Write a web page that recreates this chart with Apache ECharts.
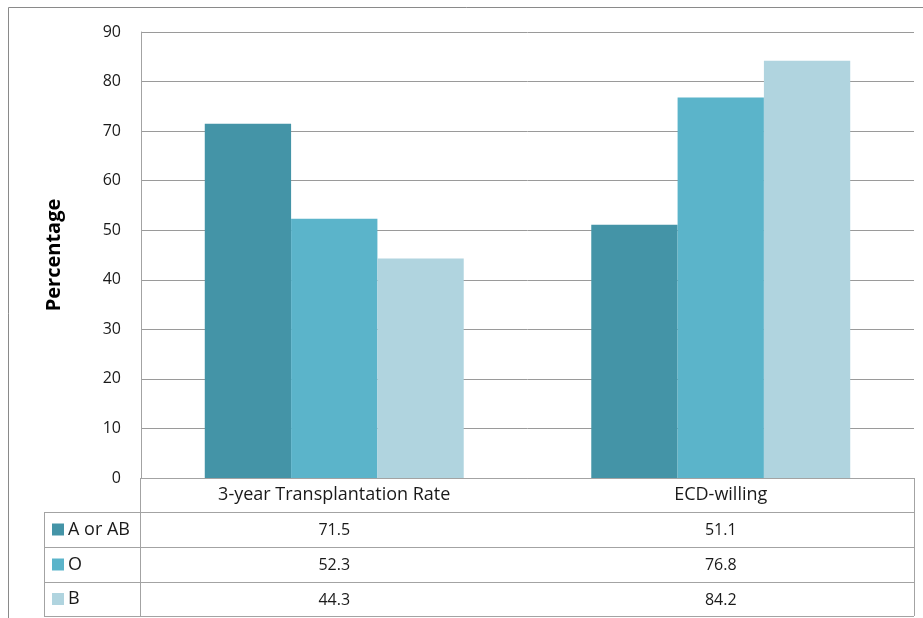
<!DOCTYPE html>
<html>
<head>
<meta charset="utf-8">
<script src="https://cdn.jsdelivr.net/npm/echarts@6/dist/echarts.min.js"></script>
<style>
  html, body { margin: 0; padding: 0; background: #ffffff; }
  #chart { width: 923px; height: 618px; }
</style>
</head>
<body>
<div id="chart"></div>
<script>
// Blood-group comparison: transplantation rate and ECD willingness
const categories = ['3-year Transplantation Rate', 'ECD-willing'];
const seriesNames = ['A or AB', 'O', 'B'];
const valuesAorAB = [71.5, 51.1];
const valuesO = [52.3, 76.8];
const valuesB = [44.3, 84.2];
const yMin = 0, yMax = 90, yStep = 10;

const seriesValues = [valuesAorAB, valuesO, valuesB];
const palette = ['#4494a7', '#5bb4ca', '#b0d4df'];
const FONT = '"Open Sans", Lato, sans-serif';
const TEXT = '#1a1a1a';
const LINE = '#a3a3a3';

// plot / table geometry
const gridLeft = 141, gridRight = 914, gridTop = 32, gridBottom = 478;
const tableLeft = 44, keyColRight = 140;
const rowEdges = [512, 547, 582, 616];

const chart = echarts.init(document.getElementById('chart'), null, { renderer: 'canvas' });

chart.setOption({
  animation: false,
  backgroundColor: '#ffffff',
  grid: {
    left: gridLeft, right: 923 - gridRight, top: gridTop, bottom: 618 - gridBottom,
    containLabel: false
  },
  xAxis: {
    type: 'category',
    data: categories,
    axisLine: { show: true, lineStyle: { color: LINE, width: 1 } },
    axisTick: { show: false },
    axisLabel: { margin: 8, fontFamily: FONT, fontSize: 18, color: TEXT }
  },
  yAxis: {
    type: 'value',
    min: yMin, max: yMax, interval: yStep,
    name: 'Percentage',
    nameLocation: 'middle',
    nameRotate: 90,
    nameGap: 77,
    nameTextStyle: { fontFamily: '"Open Sans", sans-serif', fontWeight: 'bold', fontSize: 20, color: '#000' },
    axisLine: { show: true, lineStyle: { color: LINE, width: 1 } },
    axisTick: { show: false },
    axisLabel: { margin: 20, fontFamily: FONT, fontSize: 16, color: TEXT },
    splitLine: { show: true, lineStyle: { color: '#9a9a9a', width: 1 } }
  },
  series: seriesNames.map((name, i) => ({
    name: name,
    type: 'bar',
    data: seriesValues[i],
    barGap: '0%',
    barCategoryGap: '33%',
    itemStyle: { color: palette[i] }
  }))
});

// Data table beneath the plot, aligned to the category axis
function buildTable() {
  const g = [];
  // outer chart frame
  g.push({ type: 'rect', shape: { x: 8.5, y: 7.5, width: 940, height: 700 },
           style: { fill: 'none', stroke: '#8a8a8a', lineWidth: 1 }, silent: true, z: 0 });
  // horizontal rules
  rowEdges.forEach(y => {
    g.push({ type: 'line', shape: { x1: tableLeft, y1: y + 0.5, x2: gridRight, y2: y + 0.5 },
             style: { stroke: LINE, lineWidth: 1 }, silent: true });
  });
  // vertical rules
  g.push({ type: 'line', shape: { x1: tableLeft + 0.5, y1: rowEdges[0], x2: tableLeft + 0.5, y2: rowEdges[3] },
           style: { stroke: LINE, lineWidth: 1 }, silent: true });
  g.push({ type: 'line', shape: { x1: keyColRight + 0.5, y1: gridBottom, x2: keyColRight + 0.5, y2: rowEdges[3] },
           style: { stroke: LINE, lineWidth: 1 }, silent: true });
  g.push({ type: 'line', shape: { x1: gridRight + 0.5, y1: gridBottom, x2: gridRight + 0.5, y2: rowEdges[3] },
           style: { stroke: LINE, lineWidth: 1 }, silent: true });

  seriesNames.forEach((name, r) => {
    const cy = (rowEdges[r] + rowEdges[r + 1]) / 2;
    // legend key
    g.push({ type: 'rect', shape: { x: 52, y: cy - 6, width: 12, height: 12 },
             style: { fill: palette[r] }, silent: true });
    g.push({ type: 'text', x: 68, y: cy, silent: true,
             style: { text: name, fontFamily: FONT, fontSize: 18, fill: TEXT,
                      textAlign: 'left', textVerticalAlign: 'middle' } });
    // values per category
    categories.forEach((cat, c) => {
      const cx = chart.convertToPixel({ xAxisIndex: 0 }, cat);
      g.push({ type: 'text', x: cx, y: cy + 1, silent: true,
               style: { text: String(seriesValues[r][c]), fontFamily: FONT, fontSize: 16, fill: TEXT,
                        textAlign: 'center', textVerticalAlign: 'middle' } });
    });
  });
  chart.setOption({ graphic: g });
}
buildTable();
</script>
</body>
</html>
